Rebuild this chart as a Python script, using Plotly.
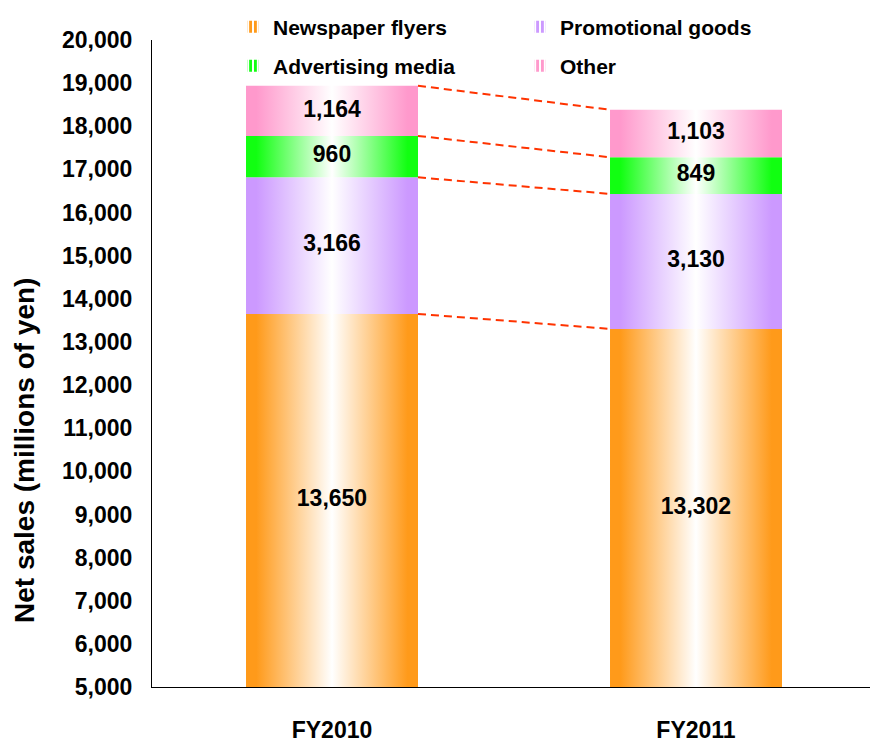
import plotly.graph_objects as go

# ---------------- data ----------------
years = ["FY2010", "FY2011"]
series_names = ["Newspaper flyers", "Promotional goods", "Advertising media", "Other"]
newspaper_flyers = [13650, 13302]
promotional_goods = [3166, 3130]
advertising_media = [960, 849]
other = [1164, 1103]
y_tick_values = list(range(5000, 20001, 1000))
y_title = "Net sales (millions of yen)"

# ---------------- style ----------------
colors = ["#FF9A1A", "#CC99FF", "#11FF11", "#FF99CC"]
legend_rows = ["legend", "legend", "legend2", "legend2"]
X_POS = [0, 1]
BAR_W = 0.4725
Y_MIN, Y_MAX = 5000, 20000
FONT = "Liberation Sans, Arial, sans-serif"
LINE_COLOR = "#FF3300"

series = [newspaper_flyers, promotional_goods, advertising_media, other]

fig = go.Figure()

# legend entries (legend only, no data)
for name, c, lg in zip(series_names, colors, legend_rows):
    fig.add_trace(go.Bar(
        x=[None], y=[None], name=name, legend=lg,
        marker=dict(color=c, line=dict(width=0),
                    pattern=dict(shape="|", bgcolor="white", fgcolor=c,
                                 size=6, solidity=0.6, fillmode="replace")),
    ))

cum = [0 for _ in X_POS]
tops_per_level = []
lab_x, lab_y, lab_t = [], [], []
for vals, c in zip(series, colors):
    cs = [[0, c], [0.06, c], [0.5, "#FFFFFF"], [0.94, c], [1, c]]
    new_cum = []
    for i, xc in enumerate(X_POS):
        b = cum[i]
        t = b + vals[i]
        x0, x1 = xc - BAR_W / 2, xc + BAR_W / 2
        yb = max(b, Y_MIN)
        fig.add_trace(go.Scatter(
            x=[x0, x1, x1, x0, x0], y=[yb, yb, t, t, yb],
            fill="toself", mode="none",
            fillgradient=dict(type="horizontal", colorscale=cs),
            showlegend=False, hoverinfo="skip",
        ))
        lab_x.append(xc)
        lab_y.append((yb + t) / 2)
        lab_t.append(f"{vals[i]:,}")
        new_cum.append(t)
    cum = new_cum
    tops_per_level.append(list(cum))

# connector dashed lines
for tops in tops_per_level:
    fig.add_trace(go.Scatter(
        x=[X_POS[0] + BAR_W / 2, X_POS[1] - BAR_W / 2], y=tops,
        mode="lines", line=dict(color=LINE_COLOR, width=2, dash="8px,5px"),
        showlegend=False, hoverinfo="skip",
    ))

# data labels
fig.add_trace(go.Scatter(
    x=lab_x, y=lab_y, text=lab_t, mode="text",
    textfont=dict(family=FONT, size=23, color="black", weight="bold"),
    showlegend=False, hoverinfo="skip",
))

legend_common = dict(
    orientation="h", xref="container", yref="container",
    x=233 / 870, xanchor="left", yanchor="middle",
    entrywidth=242, entrywidthmode="pixels",
    font=dict(family=FONT, size=21, color="black", weight="bold"),
    bgcolor="rgba(0,0,0,0)", traceorder="normal",
)

fig.update_layout(
    width=870, height=743,
    margin=dict(l=152, r=0, t=40, b=56, autoexpand=False),
    plot_bgcolor="white", paper_bgcolor="white",
    barmode="stack",
    font=dict(family=FONT, size=23, color="black", weight="bold"),
    legend=dict(legend_common, y=1 - 27 / 743),
    legend2=dict(legend_common, y=1 - 66 / 743),
    xaxis=dict(
        range=[-180 / 364, 538 / 364],
        tickvals=X_POS, ticktext=years,
        showline=True, linecolor="black", linewidth=1,
        showgrid=False, zeroline=False, ticks="",
        ticklabelstandoff=22,
        tickfont=dict(family=FONT, size=23, color="black", weight="bold"),
    ),
    yaxis=dict(
        range=[Y_MIN, Y_MAX], tickvals=y_tick_values, tickformat=",",
        showline=True, linecolor="black", linewidth=1,
        showgrid=False, zeroline=False, ticks="",
        ticklabelstandoff=14,
        tickfont=dict(family=FONT, size=23, color="black", weight="bold"),
    ),
    annotations=[dict(
        text=y_title, textangle=-90, showarrow=False,
        xref="paper", yref="paper",
        x=(24 - 152) / 718, y=(687 - 451) / 647,
        xanchor="center", yanchor="middle",
        font=dict(family=FONT, size=28, color="black", weight="bold"),
    )],
)

fig.write_html("out.html")
